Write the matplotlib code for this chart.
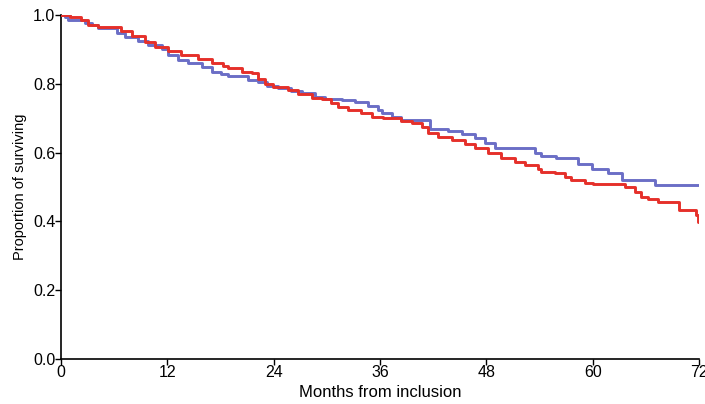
import matplotlib
matplotlib.use("Agg")
import matplotlib.pyplot as plt

# Kaplan-Meier steps: (month of drop, survival after drop)
blue_t = [0, 0.5, 0.8, 2.7, 3.5, 4.2, 6.3, 7.2, 8.7, 9.8, 11.4, 12.1, 13.2, 14.3,
          15.9, 17.0, 18.1, 18.8, 21.1, 22.2, 23.2, 24.5, 26.0, 27.2, 28.7, 29.8,
          31.7, 33.2, 34.6, 35.8, 36.2, 37.3, 38.4, 41.6, 43.7, 45.2, 46.7, 47.8,
          49.0, 53.5, 54.2, 55.9, 58.3, 59.9, 61.7, 63.3, 67.0, 72]
blue_s = [1.0, 0.995, 0.985, 0.978, 0.971, 0.961, 0.947, 0.935, 0.925, 0.913, 0.900,
          0.884, 0.869, 0.860, 0.848, 0.835, 0.828, 0.823, 0.811, 0.804, 0.795, 0.787,
          0.780, 0.772, 0.762, 0.755, 0.753, 0.746, 0.736, 0.724, 0.714, 0.704, 0.695,
          0.669, 0.664, 0.653, 0.642, 0.627, 0.612, 0.600, 0.590, 0.583, 0.566, 0.551,
          0.540, 0.520, 0.506, 0.506]

red_t = [0, 1.0, 2.3, 3.1, 4.2, 6.8, 8.0, 9.5, 10.6, 12.1, 13.6, 15.5, 17.0, 18.3,
         18.8, 20.4, 21.5, 22.2, 23.0, 23.9, 25.6, 26.8, 28.3, 29.4, 30.5, 31.3, 32.4,
         33.9, 35.1, 36.3, 38.4, 39.6, 40.7, 41.4, 42.5, 44.1, 45.6, 46.7, 48.2, 49.7,
         51.2, 52.4, 53.8, 54.2, 55.7, 56.9, 57.6, 59.1, 60.0, 63.6, 64.8, 65.5, 66.2,
         67.4, 69.7, 71.7, 71.9, 72]
red_s = [1.0, 0.995, 0.985, 0.971, 0.966, 0.954, 0.939, 0.922, 0.908, 0.896, 0.884,
         0.872, 0.861, 0.852, 0.845, 0.835, 0.830, 0.814, 0.800, 0.790, 0.782, 0.770,
         0.760, 0.755, 0.743, 0.733, 0.724, 0.714, 0.704, 0.700, 0.692, 0.685, 0.674,
         0.656, 0.646, 0.637, 0.624, 0.612, 0.598, 0.583, 0.574, 0.564, 0.552, 0.545,
         0.540, 0.530, 0.520, 0.513, 0.509, 0.500, 0.486, 0.472, 0.464, 0.455, 0.433,
         0.419, 0.399, 0.399]

xticks = [0, 12, 24, 36, 48, 60, 72]
yticks = [0.0, 0.2, 0.4, 0.6, 0.8, 1.0]

plt.rcParams['font.family'] = ['Liberation Sans', 'DejaVu Sans']

fig = plt.figure(figsize=(7.05, 4.04), dpi=100)
ax = fig.add_axes([0.0865, 0.1114, 0.905, 0.8515])

ax.step(blue_t, blue_s, where='post', color='#6b6ec6', linewidth=2.1, zorder=2)
ax.step(red_t, red_s, where='post', color='#e5302a', linewidth=2.1, zorder=3)

ax.set_xlim(0, 72)
ax.set_ylim(0, 1.0)
ax.set_xticks(xticks)
ax.set_yticks(yticks)
ax.set_yticklabels(['%.1f' % v for v in yticks])
ax.tick_params(direction='out', length=4, width=1, labelsize=11.5, pad=0)
for side in ('top', 'right'):
    ax.spines[side].set_visible(False)
for side in ('left', 'bottom'):
    ax.spines[side].set_linewidth(1.2)
ax.set_xlabel('Months from inclusion', fontsize=12, labelpad=4)
ax.set_ylabel('Proportion of surviving', fontsize=10.5, labelpad=4)

fig.savefig('out.png', dpi=100)
